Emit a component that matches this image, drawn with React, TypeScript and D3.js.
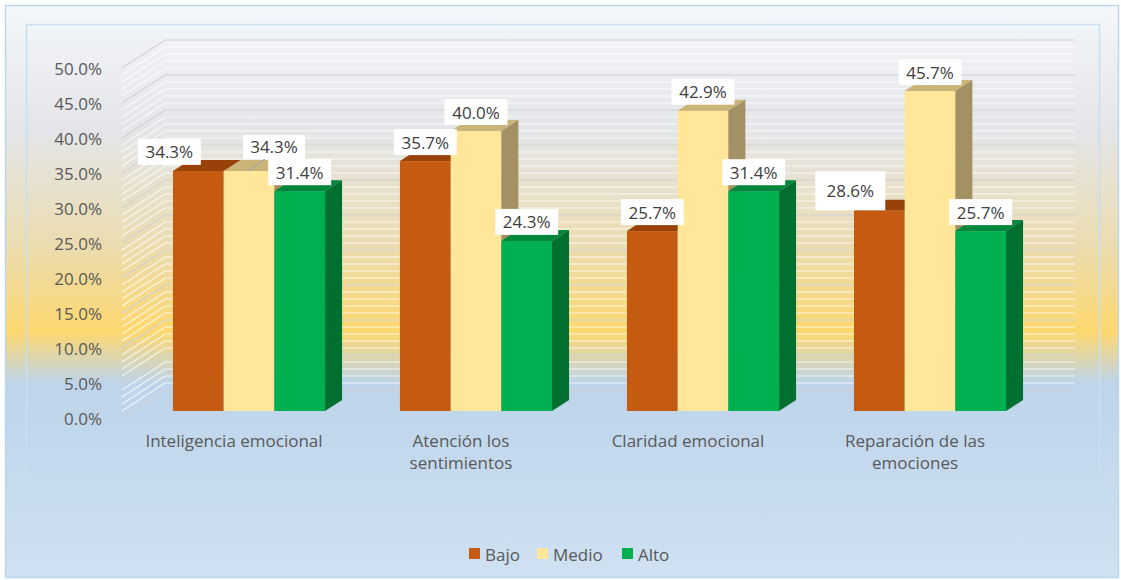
import React from "react";
import * as d3 from "d3";

const categories = [
  "Inteligencia emocional",
  "Atención los sentimientos",
  "Claridad emocional",
  "Reparación de las emociones"
];
const seriesNames = ["Bajo", "Medio", "Alto"];
const bajo = [34.3, 35.7, 25.7, 28.6];
const medio = [34.3, 40.0, 42.9, 45.7];
const alto = [31.4, 24.3, 31.4, 25.7];
const yMax = 50;

const W = 1121;
const H = 580;
const FONT = "'Open Sans', 'Noto Sans', sans-serif";
const FS = 17;

// colours per series: front, top, side
const colors = {
  Bajo: ["#C55A11", "#984109", "#7a3508"],
  Medio: ["#FFE699", "#C9B577", "#A39163"],
  Alto: ["#00B050", "#00873C", "#007030"]
};

// 3d-ish geometry
const wallLeft = 122;
const wallRight = 1032;
const wallDx = 43;
const wallDy = -28;
const barDx = 11;
const barDy = -7;
const depthDx = 17;
const depthDy = -11;

// label nudges for overlapping data labels (category index, series) -> [dx, dy, w, h]
const labelNudge = {
  "0-Bajo": [-29, 0, 63, 26],
  "0-Medio": [25, -5, 62, 24],
  "3-Bajo": [-29, -1, 70, 39]
};

function wrap(s, max) {
  const words = s.split(" ");
  const lines = [];
  let cur = "";
  words.forEach(w => {
    const next = cur ? cur + " " + w : w;
    if (next.length > max && cur) {
      lines.push(cur);
      cur = w;
    } else {
      cur = next;
    }
  });
  if (cur) lines.push(cur);
  return lines;
}

export default function App() {
  const values = { Bajo: bajo, Medio: medio, Alto: alto };

  const y = d3.scaleLinear().domain([0, yMax]).range([418, 68]);
  const x0 = d3
    .scaleBand()
    .domain(categories)
    .range([124.5, 1032.5])
    .paddingInner(0.33)
    .paddingOuter(0.165);
  const x1 = d3.scaleBand().domain(seriesNames).range([0, x0.bandwidth()]);

  const minorTicks = d3.range(0, yMax + 1, 1);
  const majorTicks = y.ticks(10);

  const bars = [];
  const labels = [];
  categories.forEach((cat, ci) => {
    seriesNames.forEach(s => {
      const v = values[s][ci];
      const x = x0(cat) + x1(s) + barDx;
      const w = x1.bandwidth();
      const yt = y(v) + barDy;
      const yb = y(0) + barDy;
      const c = colors[s];
      bars.push(
        <g key={cat + s}>
          <rect x={x} y={yt} width={w} height={yb - yt} fill={c[0]} />
          <path
            d={`M${x},${yt}L${x + w},${yt}L${x + w + depthDx},${yt + depthDy}L${x + depthDx},${yt + depthDy}Z`}
            fill={c[1]}
          />
          <path
            d={`M${x + w},${yt}L${x + w + depthDx},${yt + depthDy}L${x + w + depthDx},${yb + depthDy}L${x + w},${yb}Z`}
            fill={c[2]}
          />
        </g>
      );
      const n = labelNudge[ci + "-" + s] || [0, 0, 63, 26];
      const cx = x + w / 2 + n[0];
      const cy = yt - 19 + n[1];
      labels.push(
        <g key={"l" + cat + s}>
          {s === "Medio" && ci === 0 && (
            <line x1={x + w / 2} y1={yt} x2={cx - 9} y2={cy + n[3] / 2} stroke="#a6a6a6" strokeWidth={1.2} />
          )}
          <rect x={cx - n[2] / 2} y={cy - n[3] / 2} width={n[2]} height={n[3]} fill="#ffffff" />
          <text
            x={cx}
            y={cy}
            textAnchor="middle"
            dominantBaseline="central"
            fontSize={FS}
            fill="#404040"
            fontFamily={FONT}
          >
            {v.toFixed(1) + "%"}
          </text>
        </g>
      );
    });
  });

  const legendX = { Bajo: 469, Medio: 537, Alto: 622 };

  return (
    <svg
      width={W}
      height={H}
      style={{ position: "absolute", left: 0, top: 0, background: "#ffffff" }}
    >
      <defs>
        <linearGradient id="bg" x1="0" y1="0" x2="0" y2="1">
          <stop offset="0" stopColor="#f4f7fb" />
          <stop offset="0.22" stopColor="#e4e5e8" />
          <stop offset="0.42" stopColor="#ebdcb0" />
          <stop offset="0.57" stopColor="#fdd86f" />
          <stop offset="0.66" stopColor="#bdd4ea" />
          <stop offset="1" stopColor="#cfe1f2" />
        </linearGradient>
      </defs>
      <rect x={5.5} y={5.5} width={W - 8} height={H - 8} fill="url(#bg)" stroke="#bdd7ee" strokeWidth={1.5} />
      <rect x={26.5} y={24.5} width={1073} height={452} fill="none" stroke="#c9def1" strokeWidth={1.5} />

      {/* gridlines: left wall and back wall */}
      <g fill="none">
        {minorTicks.map(t => {
          const major = t % 5 === 0;
          const yy = y(t);
          return (
            <path
              key={"g" + t}
              d={`M${wallLeft},${yy}L${wallLeft + wallDx},${yy + wallDy}L${wallRight + wallDx},${yy + wallDy}`}
              stroke={major ? "#d2d2d2" : "#ffffff"}
              strokeOpacity={major ? 1 : 0.75}
              strokeWidth={1.2}
            />
          );
        })}
      </g>

      {/* y axis labels */}
      <g>
        {majorTicks.map(t => (
          <text
            key={"t" + t}
            x={102}
            y={y(t)}
            textAnchor="end"
            dominantBaseline="central"
            fontSize={FS}
            fill="#595959"
            fontFamily={FONT}
          >
            {t.toFixed(1) + "%"}
          </text>
        ))}
      </g>

      {bars}
      {labels}

      {/* category labels */}
      <g>
        {categories.map(cat => {
          const lines = wrap(cat, 22);
          const cx = x0(cat) + x0.bandwidth() / 2 - 4;
          return (
            <text
              key={"c" + cat}
              textAnchor="middle"
              fontSize={FS}
              fill="#595959"
              fontFamily={FONT}
            >
              {lines.map((ln, i) => (
                <tspan key={i} x={cx} y={440 + i * 22} dominantBaseline="central">
                  {ln}
                </tspan>
              ))}
            </text>
          );
        })}
      </g>

      {/* legend */}
      <g>
        {seriesNames.map(s => (
          <g key={"lg" + s}>
            <rect x={legendX[s]} y={548} width={11} height={11} fill={colors[s][0]} />
            <text
              x={legendX[s] + 16}
              y={554}
              dominantBaseline="central"
              fontSize={FS}
              fill="#595959"
              fontFamily={FONT}
            >
              {s}
            </text>
          </g>
        ))}
      </g>
    </svg>
  );
}
